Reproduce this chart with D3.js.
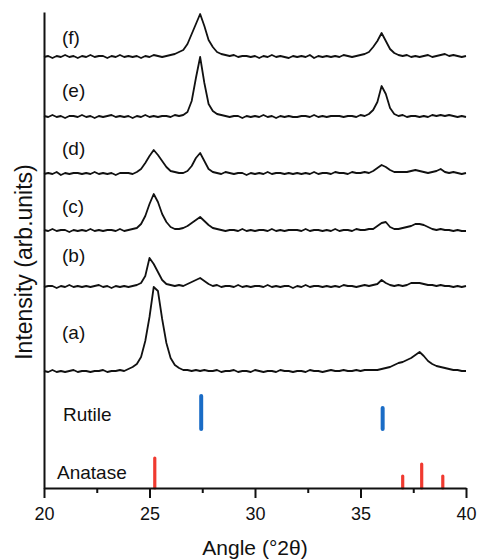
<!DOCTYPE html>
<html>
<head>
<meta charset="utf-8">
<script src="https://cdn.jsdelivr.net/npm/d3@7"></script>
<style>
  html, body { margin: 0; padding: 0; background: #fff; }
  svg { display: block; font-family: "Liberation Sans", Arial, sans-serif; }
</style>
</head>
<body>
<svg id="chart" width="478" height="560"></svg>
<script>
// ---------------- DATA ----------------
const angles = [
  20.0,20.2,20.4,20.6,20.8,21.0,21.2,21.4,21.6,21.8,
  22.0,22.2,22.4,22.6,22.8,23.0,23.2,23.4,23.6,23.8,
  24.0,24.2,24.4,24.6,24.8,25.0,25.2,25.4,25.6,25.8,
  26.0,26.2,26.4,26.6,26.8,27.0,27.2,27.4,27.6,27.8,
  28.0,28.2,28.4,28.6,28.8,29.0,29.2,29.4,29.6,29.8,
  30.0,30.2,30.4,30.6,30.8,31.0,31.2,31.4,31.6,31.8,
  32.0,32.2,32.4,32.6,32.8,33.0,33.2,33.4,33.6,33.8,
  34.0,34.2,34.4,34.6,34.8,35.0,35.2,35.4,35.6,35.8,
  36.0,36.2,36.4,36.6,36.8,37.0,37.2,37.4,37.6,37.8,
  38.0,38.2,38.4,38.6,38.8,39.0,39.2,39.4,39.6,39.8,
  40.0
];

const sampleLabels = ["(a)", "(b)", "(c)", "(d)", "(e)", "(f)"];
const sampleOffsets = [115, 200, 256, 313, 370, 430];

const seriesA = [
  2,1,3,1,2,1,2,3,1,2,
  2,1,2,2,3,1,2,2,3,2,
  4,6,9,16,32,56,86,82,54,30,
  15,8,5,3,3,2,3,2,3,2,
  2,3,1,2,2,3,1,2,2,1,
  3,2,1,2,2,1,3,2,2,1,
  2,2,1,3,2,2,1,2,3,2,
  2,3,2,2,3,2,3,3,3,3,
  4,5,6,8,10,11,13,15,18,21,
  17,12,9,7,6,5,4,3,3,2,
  2
];
const seriesB = [
  1,2,2,0,2,1,3,1,2,1,
  2,1,2,3,1,2,0,2,1,2,
  1,2,3,5,12,30,24,16,8,4,
  3,2,3,2,4,6,8,10,7,4,
  2,3,1,2,2,1,3,1,2,1,
  2,2,1,3,1,2,1,2,2,0,
  2,1,3,1,2,2,1,2,1,2,
  1,3,2,2,1,2,3,2,3,4,
  8,5,3,2,3,2,3,5,5,5,
  4,3,3,2,3,2,2,1,2,1,
  2
];
const seriesC = [
  2,1,3,1,2,2,0,2,1,2,
  1,3,1,2,1,2,2,1,3,1,
  2,3,4,8,16,28,38,30,18,10,
  5,3,3,4,6,9,12,15,11,7,
  4,3,2,1,2,2,1,3,1,2,
  1,2,2,1,3,1,2,1,2,2,
  2,1,3,1,2,2,1,2,1,3,
  1,2,2,1,3,2,2,3,3,6,
  9,10,5,3,3,4,5,6,8,8,
  7,5,3,2,3,2,2,1,2,1,
  1
];
const seriesD = [
  1,2,1,3,0,2,1,2,2,1,
  2,1,3,1,2,1,2,0,2,2,
  2,1,3,6,12,19,25,20,14,8,
  4,3,2,2,4,9,17,22,14,6,
  3,2,1,3,2,1,2,2,0,2,
  1,2,1,3,1,2,2,1,2,1,
  2,1,2,1,3,1,2,2,1,3,
  2,2,1,3,2,2,3,2,4,7,
  10,8,5,3,3,3,3,4,5,4,
  3,2,3,4,6,3,2,3,2,1,
  2
];
const seriesE = [
  2,1,3,1,2,0,2,2,1,3,
  1,2,0,2,1,2,3,1,2,1,
  2,0,2,1,3,1,2,1,2,2,
  1,3,2,3,6,17,40,61,35,14,
  7,4,3,2,1,2,2,0,2,1,
  2,1,3,1,2,0,2,1,2,1,
  1,2,2,1,3,1,2,1,2,2,
  2,1,2,2,1,3,2,4,8,16,
  32,24,10,4,2,3,1,2,2,1,
  2,1,3,2,3,2,3,2,1,2,
  1
];
const seriesF = [
  1,2,0,2,1,3,1,2,0,2,
  1,3,1,2,2,0,2,1,3,1,
  2,1,2,0,2,1,3,2,1,2,
  3,4,6,8,14,24,34,44,32,18,
  11,6,4,3,2,3,1,2,2,1,
  2,0,2,1,3,1,2,1,0,2,
  1,2,1,3,0,2,1,2,1,2,
  1,3,2,1,2,3,4,6,11,17,
  25,17,9,5,3,2,3,1,2,1,
  2,3,1,2,3,4,2,3,2,1,
  2
];
const seriesValues = [seriesA, seriesB, seriesC, seriesD, seriesE, seriesF];

// Reference patterns
const rutileAngles = [27.45, 36.05];
const rutileIntensity = [33, 21];
const rutileOffset = 59;
const anataseAngles = [25.25, 37.0, 37.9, 38.9];
const anataseIntensity = [30, 12, 24, 12];
const anataseOffset = 0;

const xMajorTicks = [20, 25, 30, 35, 40];
const xMinorTicks = [22.5, 27.5, 32.5, 37.5];

// ---------------- LAYOUT ----------------
const labelBaselines = [339, 262, 213, 155, 97, 44]; // pixel y of sample labels

// ---------------- CHART ----------------
const svg = d3.select("#chart");
const x = d3.scaleLinear().domain([20, 40]).range([44, 466]);
const y = d3.scaleLinear().domain([0, 476]).range([488, 12]);

const line = d3.line()
  .x(d => x(d[0]))
  .y(d => y(d[1]));

// traces
seriesValues.forEach((vals, i) => {
  const pts = angles.map((a, j) => [a, sampleOffsets[i] + vals[j]]);
  svg.append("path")
    .datum(pts)
    .attr("fill", "none")
    .attr("stroke", "#111")
    .attr("stroke-width", 1.8)
    .attr("stroke-linejoin", "round")
    .attr("d", line);
});

// sample labels
svg.append("g").selectAll("text")
  .data(sampleLabels)
  .join("text")
  .attr("x", 62)
  .attr("y", (d, i) => labelBaselines[i])
  .attr("font-size", 19)
  .attr("fill", "#111")
  .text(d => d);

// rutile reference bars
svg.append("g").selectAll("line")
  .data(rutileAngles)
  .join("line")
  .attr("x1", d => x(d)).attr("x2", d => x(d))
  .attr("y1", y(rutileOffset))
  .attr("y2", (d, i) => y(rutileOffset + rutileIntensity[i]))
  .attr("stroke", "#1a6cc6")
  .attr("stroke-width", 4)
  .attr("stroke-linecap", "round");

// anatase reference bars
svg.append("g").selectAll("line")
  .data(anataseAngles)
  .join("line")
  .attr("x1", d => x(d)).attr("x2", d => x(d))
  .attr("y1", y(anataseOffset))
  .attr("y2", (d, i) => y(anataseOffset + anataseIntensity[i]))
  .attr("stroke", "#f03a30")
  .attr("stroke-width", 3.2)
  .attr("stroke-linecap", "round");

svg.append("text").attr("x", 63).attr("y", 421)
  .attr("font-size", 19).attr("fill", "#111").text("Rutile");
svg.append("text").attr("x", 57).attr("y", 479)
  .attr("font-size", 19).attr("fill", "#111").text("Anatase");

// x axis
const xAxis = svg.append("g")
  .attr("transform", `translate(0,${y(0)})`)
  .call(d3.axisBottom(x).tickValues(xMajorTicks).tickSize(10).tickSizeOuter(0).tickPadding(9).tickFormat(d3.format("d")));
xAxis.select(".domain").attr("stroke", "#111").attr("stroke-width", 2);
xAxis.selectAll(".tick line").attr("stroke", "#111").attr("stroke-width", 2);
xAxis.selectAll(".tick text").attr("font-size", 18).attr("fill", "#111")
  .attr("font-family", "Liberation Sans, Arial, sans-serif");

const xMinor = svg.append("g")
  .attr("transform", `translate(0,${y(0)})`)
  .call(d3.axisBottom(x).tickValues(xMinorTicks).tickSize(5).tickFormat(""));
xMinor.select(".domain").remove();
xMinor.selectAll(".tick line").attr("stroke", "#111").attr("stroke-width", 2);

// y axis (plain line)
const yAxis = svg.append("g")
  .attr("transform", `translate(${x(20)},0)`)
  .call(d3.axisLeft(y).tickValues([]).tickSizeOuter(0));
yAxis.select(".domain").attr("stroke", "#111").attr("stroke-width", 2);

// titles
svg.append("text")
  .attr("x", 255).attr("y", 555)
  .attr("text-anchor", "middle")
  .attr("font-size", 21).attr("fill", "#111")
  .text("Angle (°2θ)");

svg.append("text")
  .attr("transform", "translate(32,262) rotate(-90)")
  .attr("text-anchor", "middle")
  .attr("font-size", 23).attr("fill", "#111")
  .text("Intensity (arb.units)");
</script>
</body>
</html>
